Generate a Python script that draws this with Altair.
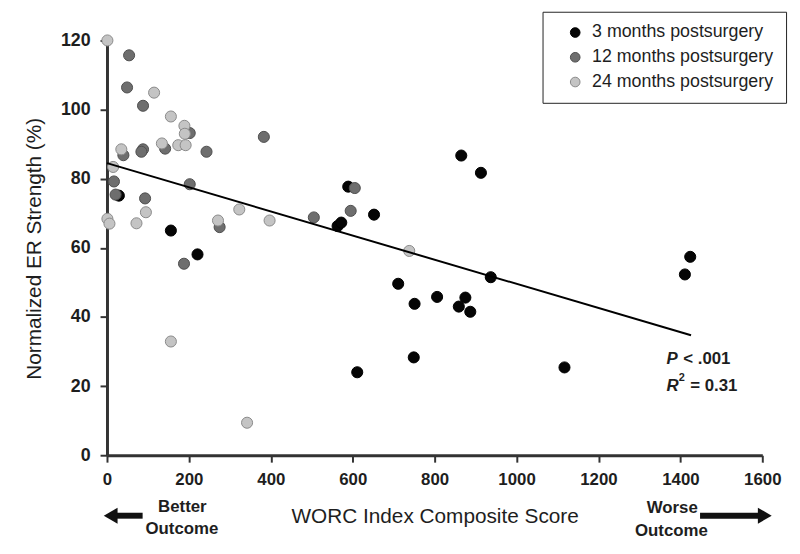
import altair as alt
import pandas as pd

groups = ["3 months postsurgery", "12 months postsurgery", "24 months postsurgery"]

x3 = [29, 156, 221, 589, 563, 572, 652, 865, 913, 937, 711, 751, 806, 875, 859, 887, 749, 611, 1117, 1411, 1424]
y3 = [75.1, 65.0, 58.1, 77.7, 66.3, 67.3, 69.6, 86.7, 81.7, 51.5, 49.6, 43.8, 45.8, 45.6, 43.0, 41.5, 28.3, 24.0, 25.4, 52.3, 57.4]

x12 = [54, 49, 88, 202, 40, 88, 84, 142, 243, 17, 21, 93, 202, 275, 383, 188, 505, 605, 595]
y12 = [115.7, 106.4, 101.1, 93.2, 86.8, 88.5, 87.8, 88.7, 87.8, 79.2, 75.4, 74.3, 78.4, 66.0, 92.1, 55.4, 68.8, 77.3, 70.7]

x24 = [1, 115, 156, 189, 190, 35, 134, 174, 192, 15, 1, 6, 72, 95, 271, 323, 397, 156, 342, 738]
y24 = [120.0, 104.9, 98.0, 95.3, 93.0, 88.5, 90.2, 89.7, 89.7, 83.4, 68.4, 67.0, 67.1, 70.3, 67.9, 71.1, 67.9, 32.9, 9.4, 59.1]

reg_x = [0, 1426]
reg_y = [84.5, 34.7]

x_ticks = [0, 200, 400, 600, 800, 1000, 1200, 1400, 1600]
y_ticks = [0, 20, 40, 60, 80, 100, 120]

FONT = "Liberation Sans"
INK = "#1e1e1e"

df = pd.DataFrame({
    "x": x3 + x12 + x24,
    "y": y3 + y12 + y24,
    "g": [groups[0]] * len(x3) + [groups[1]] * len(x12) + [groups[2]] * len(x24),
})

xscale = alt.Scale(domain=[0, 1600], nice=False, zero=False)
yscale = alt.Scale(domain=[0, 120], nice=False, zero=False)

points = alt.Chart(df).mark_circle(size=125, opacity=1, strokeWidth=1).encode(
    x=alt.X("x:Q", scale=xscale,
            axis=alt.Axis(values=x_ticks, format="d", title="WORC Index Composite Score",
                          titleY=62, titleBaseline="middle", labelFlush=False,
                          labelPadding=10, titleFontWeight="normal", titleFontSize=21)),
    y=alt.Y("y:Q", scale=yscale,
            axis=alt.Axis(values=y_ticks, format="d", title="Normalized ER Strength (%)",
                          titleX=-73, titleY=210, titleAngle=-90, titleBaseline="middle",
                          labelPadding=10, titleFontWeight="normal", titleFontSize=21)),
    fill=alt.Fill("g:N", sort=groups,
                  scale=alt.Scale(domain=groups, range=["#050505", "#6e6e6e", "#c4c4c4"]),
                  legend=alt.Legend(orient="none", legendX=440, legendY=-29, title=None,
                                    padding=12, strokeColor="#222222", fillColor="white",
                                    symbolType="circle", symbolSize=95, symbolOffset=12,
                                    symbolStrokeColor="#555555", symbolStrokeWidth=1,
                                    labelFontSize=18, labelFont=FONT, labelColor=INK,
                                    labelLimit=400, labelOffset=8, rowPadding=7)),
    stroke=alt.Stroke("g:N", sort=groups,
                      scale=alt.Scale(domain=groups, range=["#000000", "#4e4e4e", "#8a8a8a"]),
                      legend=None),
)

reg = alt.Chart(pd.DataFrame({"x": reg_x, "y": reg_y})).mark_line(
    color="black", strokeWidth=2).encode(x="x:Q", y="y:Q")

stats_italic = alt.Chart(pd.DataFrame({
    "x": [1366, 1366], "y": [27.7, 20.1], "t": ["P", "R"]
})).mark_text(align="left", baseline="middle", fontSize=17, fontStyle="italic",
              fontWeight="bold", font=FONT, color=INK).encode(x="x:Q", y="y:Q", text="t:N")

stats_plain = alt.Chart(pd.DataFrame({
    "x": [1407, 1424], "y": [27.7, 20.1], "t": ["< .001", "= 0.31"]
})).mark_text(align="left", baseline="middle", fontSize=17,
              fontWeight="bold", font=FONT, color=INK).encode(x="x:Q", y="y:Q", text="t:N")

stats_sup = alt.Chart(pd.DataFrame({
    "x": [1396], "y": [22.2], "t": ["2"]
})).mark_text(align="left", baseline="middle", fontSize=11,
              fontWeight="bold", font=FONT, color=INK).encode(x="x:Q", y="y:Q", text="t:N")

outcome = alt.Chart(pd.DataFrame({
    "x": [184, 183, 1380, 1378],
    "y": [-14.9, -21.5, -15.2, -21.8],
    "t": ["Better", "Outcome", "Worse", "Outcome"],
})).mark_text(align="center", baseline="middle", fontSize=17, fontWeight="bold",
              font=FONT, color=INK).encode(x="x:Q", y="y:Q", text="t:N")

shafts = alt.Chart(pd.DataFrame({
    "x": [12, 1448], "x2": [87, 1592], "y": [-17.5, -17.5]
})).mark_rule(strokeWidth=6, color="#111111").encode(x="x:Q", x2="x2:Q", y="y:Q")

heads = alt.Chart(pd.DataFrame({
    "x": [9, 1606], "y": [-17.5, -17.5], "s": ["triangle-left", "triangle-right"]
})).mark_point(filled=True, size=260, opacity=1, color="#111111").encode(
    x="x:Q", y="y:Q",
    shape=alt.Shape("s:N", scale=alt.Scale(domain=["triangle-left", "triangle-right"],
                                           range=["triangle-left", "triangle-right"]),
                    legend=None))

chart = alt.layer(points, reg, stats_italic, stats_plain, stats_sup, outcome, shafts, heads).properties(
    width=662, height=419,
    autosize=alt.AutoSizeParams(type="none"),
    padding={"left": 100, "top": 30, "right": 30, "bottom": 96},
    background="white",
).configure_view(stroke=None, clip=False).configure_axis(
    grid=False, domainColor="#333333", domainWidth=3, tickColor="#333333",
    tickWidth=2, tickSize=7, labelFont=FONT, labelFontSize=18, labelFontWeight="bold",
    labelColor=INK, titleFont=FONT, titleColor=INK,
).configure_axisX(labelFontSize=17)

chart.save("out.html", embed_options={"renderer": "svg", "actions": False})
